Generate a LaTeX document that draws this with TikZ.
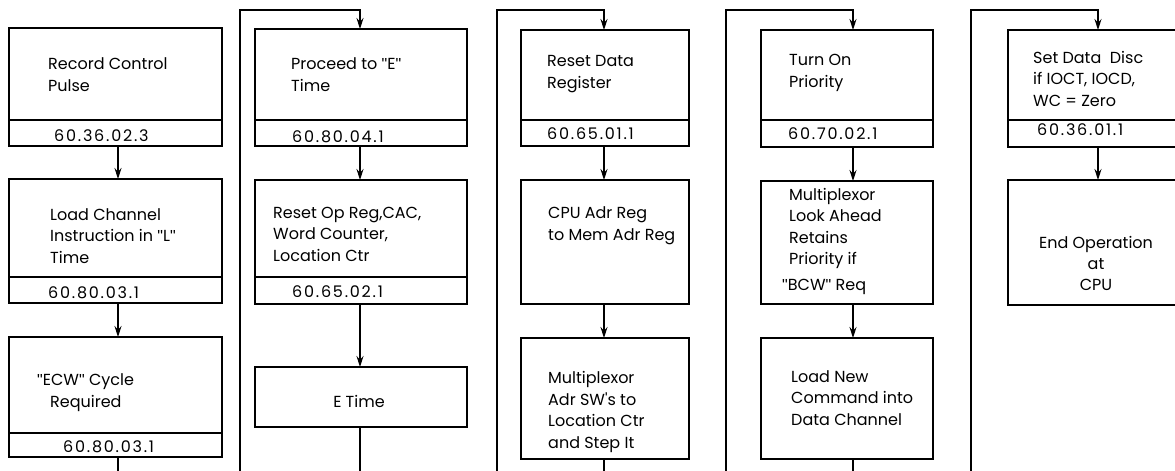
\documentclass[tikz,border=0pt]{standalone}
\usepackage{fontspec}
\setmainfont{Poppins}
\newfontfamily\numfont[LetterSpace=11]{Poppins}
\newfontfamily\qfont{Liberation Sans}
\newcommand\qq{{\qfont\char"22}}
\usetikzlibrary{arrows.meta}
\tikzset{
 box/.style={draw, line width=1.3pt, outer sep=0pt, inner sep=0pt},
 txt/.style={anchor=base west, align=left, inner sep=0pt, font=\fontsize{16}{21.5}\selectfont},
 ctxt/.style={anchor=base, align=center, inner sep=0pt, font=\fontsize{16}{21}\selectfont},
 num/.style={anchor=base west, inner sep=0pt, font=\numfont\fontsize{16}{18}\selectfont},
 flow/.style={line width=1.1pt, -{Stealth[length=11pt,width=7pt]}},
}
\newcommand\mkbox[5]{\node[box, anchor=north west, minimum width={(#4)-(#2)}, minimum height={(#5)-(#3)}] (#1) at (#2,#3) {};}
\begin{document}
\begin{tikzpicture}[x=1pt,y=-1pt]
\path[use as bounding box, clip] (0,0) rectangle (1175,471);
% arrow columns and loop lines
\coordinate (A1) at (118,0);
\coordinate (A2) at (360,0);
\coordinate (A3) at (604,0);
\coordinate (A4) at (853,0);
\coordinate (A5) at (1098,0);
\coordinate (L2) at (240,10);
\coordinate (L3) at (497,10);
\coordinate (L4) at (726,10);
\coordinate (L5) at (971,10);
\coordinate (B) at (0,500);
% column 1
\mkbox{c1a}{9}{28}{222}{120}
\mkbox{c1an}{9}{120}{222}{146}
\mkbox{c1b}{9}{179}{222}{277}
\mkbox{c1bn}{9}{277}{222}{303}
\mkbox{c1c}{9}{337}{222}{433}
\mkbox{c1cn}{9}{433}{222}{457}
\node[txt] (t1a) at (48,91) {Record Control\\Pulse};
\node[num] (n1a) at (54,141) {60.36.02.3};
\node[txt] (t1b) at (50,263) {Load Channel\\Instruction in \qq L\qq\\Time};
\node[num] (n1b) at (48,298) {60.80.03.1};
\node[txt] (t1c) at (37,407) {\qq ECW\qq\ Cycle\\\hspace*{13pt}Required};
\node[num] (n1c) at (63,452) {60.80.03.1};
% column 2
\mkbox{c2a}{255}{29}{467}{120}
\mkbox{c2an}{255}{120}{467}{146}
\mkbox{c2b}{255}{180}{467}{277}
\mkbox{c2bn}{255}{277}{467}{304}
\mkbox{c2c}{255}{367}{467}{427}
\node[txt] (t2a) at (291,91) {Proceed to \qq E\qq\\Time};
\node[num] (n2a) at (292,142) {60.80.04.1};
\node[txt] (t2b) at (273,261) {Reset Op Reg,CAC,\\Word Counter,\\Location Ctr};
\node[num] (n2b) at (292,297) {60.65.02.1};
\node[ctxt] (t2c) at (359,407) {E Time};
% column 3
\mkbox{c3a}{521}{30}{689}{120}
\mkbox{c3an}{521}{120}{689}{146}
\mkbox{c3b}{521}{180}{689}{304}
\mkbox{c3c}{521}{338}{689}{459}
\node[txt] (t3a) at (547,88) {Reset Data\\Register};
\node[num] (n3a) at (547,139) {60.65.01.1};
\node[txt] (t3b) at (548,240) {CPU Adr Reg\\to Mem Adr Reg};
\node[txt] (t3c) at (548,448) {Multiplexor\\Adr SW\textquotesingle s to\\Location Ctr\\and Step It};
% column 4
\mkbox{c4a}{761}{30}{933}{120}
\mkbox{c4an}{761}{120}{933}{147}
\mkbox{c4b}{761}{181}{933}{304}
\mkbox{c4c}{761}{338}{933}{459}
\node[txt] (t4a) at (789,87) {Turn On\\Priority};
\node[num] (n4a) at (788,139) {60.70.02.1};
\node[txt] (t4b) at (782,290) {\hspace*{7pt}Multiplexor\\\hspace*{7pt}Look Ahead\\\hspace*{7pt}Retains\\\hspace*{7pt}Priority if\\[4pt]\qq BCW\qq\ Req};
\node[txt] (t4c) at (791,425) {Load New\\Command into\\Data Channel};
% column 5
\mkbox{c5a}{1008}{30}{1190}{120}
\mkbox{c5an}{1008}{120}{1190}{147}
\mkbox{c5b}{1008}{180}{1190}{305}
\node[txt] (t5a) at (1033,106) {Set Data~~Disc\\if IOCT, IOCD,\\WC = Zero};
\node[num] (n5a) at (1037,135) {60.36.01.1};
\node[ctxt] (t5b) at (1096,290) {End Operation\\at\\CPU};
% connectors within columns
\draw[flow] (c1an.south -| A1) -- (c1b.north -| A1);
\draw[flow] (c1bn.south -| A1) -- (c1c.north -| A1);
\draw[flow] (c2an.south -| A2) -- (c2b.north -| A2);
\draw[flow] (c2bn.south -| A2) -- (c2c.north -| A2);
\draw[flow] (c3an.south -| A3) -- (c3b.north -| A3);
\draw[flow] (c3b.south -| A3) -- (c3c.north -| A3);
\draw[flow] (c4an.south -| A4) -- (c4b.north -| A4);
\draw[flow] (c4b.south -| A4) -- (c4c.north -| A4);
\draw[flow] (c5an.south -| A5) -- (c5b.north -| A5);
% connectors between columns (looping below the page)
\draw[flow] (c1cn.south -| A1) -- (A1 |- B) -- (L2 |- B) -- (L2) -- (A2 |- L2) -- (c2a.north -| A2);
\draw[flow] (c2c.south -| A2) -- (A2 |- B) -- (L3 |- B) -- (L3) -- (A3 |- L3) -- (c3a.north -| A3);
\draw[flow] (c3c.south -| A3) -- (A3 |- B) -- (L4 |- B) -- (L4) -- (A4 |- L4) -- (c4a.north -| A4);
\draw[flow] (c4c.south -| A4) -- (A4 |- B) -- (L5 |- B) -- (L5) -- (A5 |- L5) -- (c5a.north -| A5);
\end{tikzpicture}
\end{document}
